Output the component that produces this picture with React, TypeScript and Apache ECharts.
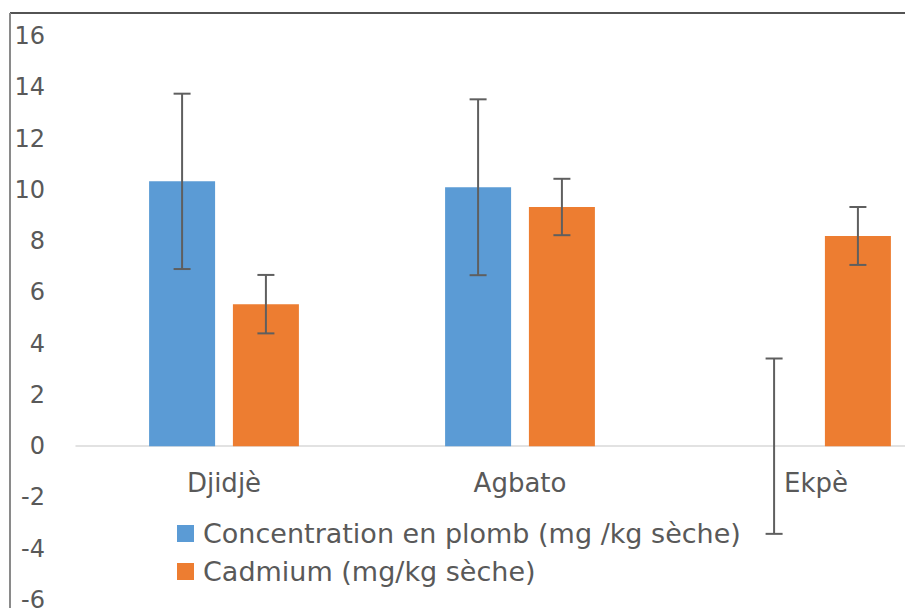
import React, { useEffect, useRef } from "react";
import * as echarts from "echarts";

const categories = ["Djidjè", "Agbato", "Ekpè"];
const seriesNames = ["Concentration en plomb (mg /kg sèche)", "Cadmium (mg/kg sèche)"];
const leadValues = [10.33, 10.1, 0];
const leadErrors = [3.42, 3.43, 3.42];
const cadmiumValues = [5.54, 9.33, 8.2];
const cadmiumErrors = [1.14, 1.1, 1.13];
const yTicks = { min: -6, max: 16, interval: 2 };

const BLUE = "#5B9BD5";
const ORANGE = "#ED7D31";
const TEXT = "#595959";
const BAR_WIDTH = 66;
const BAR_GAP = 0.27;
const GRID = { left: 76, right: -59, top: 36, bottom: 8 };
const HEIGHT = 608;

function errorSeries(values: number[], errors: number[], sign: number) {
  const offset = (sign * BAR_WIDTH * (1 + BAR_GAP)) / 2;
  return {
    type: "custom",
    silent: true,
    z: 10,
    encode: { x: 0, y: [1, 2] },
    data: values.map((v, i) => [i, v - errors[i], v + errors[i]]),
    renderItem: (params: any, api: any) => {
      const lo = api.coord([api.value(0), api.value(1)]);
      const hi = api.coord([api.value(0), api.value(2)]);
      const x = lo[0] + offset;
      const cap = 8.5;
      const style = { stroke: "#5f5f5f", lineWidth: 2 };
      return {
        type: "group",
        children: [
          { type: "line", shape: { x1: x, y1: lo[1], x2: x, y2: hi[1] }, style },
          { type: "line", shape: { x1: x - cap, y1: lo[1], x2: x + cap, y2: lo[1] }, style },
          { type: "line", shape: { x1: x - cap, y1: hi[1], x2: x + cap, y2: hi[1] }, style },
        ],
      };
    },
  };
}

export default function App() {
  const ref = useRef<HTMLDivElement>(null);
  useEffect(() => {
    document.body.style.margin = "0";
    const chart = echarts.init(ref.current!, undefined, { renderer: "svg" });
    const gridHeight = HEIGHT - GRID.top - GRID.bottom;
    const zeroOffset = -(gridHeight * (0 - yTicks.min)) / (yTicks.max - yTicks.min);
    chart.setOption({
      animation: false,
      backgroundColor: "#ffffff",
      textStyle: { fontFamily: "DejaVu Sans" },
      grid: { ...GRID, containLabel: false, outerBoundsMode: "none" },
      legend: {
        orient: "vertical",
        left: 177,
        top: 520,
        padding: 0,
        icon: "rect",
        itemWidth: 17,
        itemHeight: 17,
        itemGap: 11,
        textStyle: { color: TEXT, fontSize: 27, lineHeight: 27, padding: [0, 0, 0, 4], fontFamily: "DejaVu Sans" },
        data: seriesNames,
      },
      xAxis: {
        type: "category",
        data: categories,
        offset: zeroOffset,
        axisLine: { show: true, onZero: false, lineStyle: { color: "#d9d9d9", width: 1.5 } },
        axisTick: { show: false },
        axisLabel: { color: TEXT, fontSize: 26, margin: 24, fontFamily: "DejaVu Sans" },
        splitLine: { show: false },
      },
      yAxis: {
        type: "value",
        min: yTicks.min,
        max: yTicks.max,
        interval: yTicks.interval,
        axisLine: { show: false },
        axisTick: { show: false },
        splitLine: { show: false },
        axisLabel: { color: TEXT, fontSize: 24, margin: 31, fontFamily: "DejaVu Sans" },
      },
      graphic: [
        { type: "line", shape: { x1: 10, y1: 13, x2: 905, y2: 13 }, style: { stroke: "#1a1a1a", lineWidth: 1.5 }, z: 100 },
        { type: "line", shape: { x1: 10, y1: 13, x2: 10, y2: 608 }, style: { stroke: "#8a8a8a", lineWidth: 2 }, z: 100 },
      ],
      series: [
        {
          name: seriesNames[0],
          type: "bar",
          data: leadValues,
          barWidth: BAR_WIDTH,
          barGap: BAR_GAP * 100 + "%",
          itemStyle: { color: BLUE },
        },
        {
          name: seriesNames[1],
          type: "bar",
          data: cadmiumValues,
          barWidth: BAR_WIDTH,
          barGap: BAR_GAP * 100 + "%",
          itemStyle: { color: ORANGE },
        },
        errorSeries(leadValues, leadErrors, -1),
        errorSeries(cadmiumValues, cadmiumErrors, 1),
      ],
    });
    return () => chart.dispose();
  }, []);
  return <div ref={ref} style={{ width: 905, height: 608 }} />;
}
